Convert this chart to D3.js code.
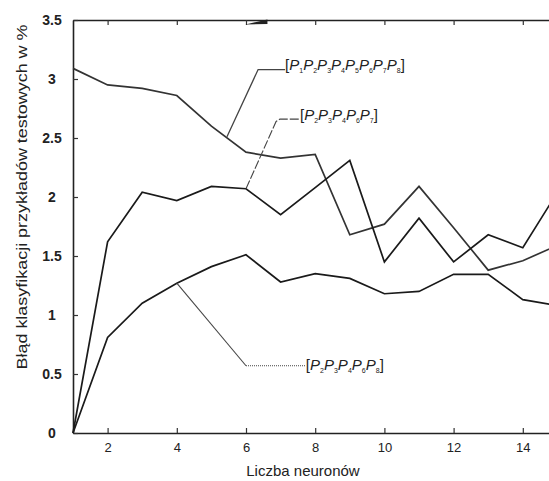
<!DOCTYPE html>
<html>
<head>
<meta charset="utf-8">
<script src="https://cdn.jsdelivr.net/npm/d3@7"></script>
<style>
  body { margin: 0; background: #fff; }
  svg { display: block; font-family: "Liberation Sans", Arial, sans-serif; }
</style>
</head>
<body>
<div id="chart"></div>
<script>
// liczba neuronow w warstwie ukrytej
const neurons = [1, 2, 3, 4, 5, 6, 7, 8, 9, 10, 11, 12, 13, 14, 15];

// blad klasyfikacji [%] dla trzech zestawow cech
const errAll = [3.09, 2.95, 2.92, 2.86, 2.60, 2.38, 2.33, 2.36, 1.68, 1.77, 2.09, 1.74, 1.38, 1.46, 1.59];
const errSet7 = [0, 1.62, 2.04, 1.97, 2.09, 2.07, 1.85, 2.08, 2.31, 1.45, 1.82, 1.45, 1.68, 1.57, 2.04];
const errSet8 = [0, 0.81, 1.10, 1.27, 1.41, 1.51, 1.28, 1.35, 1.31, 1.18, 1.20, 1.345, 1.345, 1.13, 1.08];

const xTicks = [2, 4, 6, 8, 10, 12, 14];
const yTicks = [0, 0.5, 1, 1.5, 2, 2.5, 3, 3.5];

// opisy krzywych: indeksy P
const labelAll = [1, 2, 3, 4, 5, 6, 7, 8];
const labelSet7 = [2, 3, 4, 6, 7];
const labelSet8 = [2, 3, 4, 6, 8];

var W = 549, H = 481;
var padLeft = 73, padTop = 20, axisY = 433;

var svg = d3.select("#chart")
  .append("svg")
  .attr("width", W)
  .attr("height", H);

var x = d3.scaleLinear().domain([1, 15]).range([padLeft, padLeft + 14 * 34.6]);
var y = d3.scaleLinear().domain([0, 3.5]).range([axisY, padTop]);

// osie
var xAxis = svg.append("g")
  .attr("transform", "translate(0," + axisY + ")")
  .call(d3.axisBottom(x).tickValues(xTicks).tickSize(-5).tickPadding(10).tickSizeOuter(0));

var xTop = svg.append("g")
  .attr("transform", "translate(0," + padTop + ")")
  .call(d3.axisTop(x).tickValues(xTicks).tickSize(-5).tickFormat("").tickSizeOuter(0));

var yAxis = svg.append("g")
  .attr("transform", "translate(" + padLeft + ",0)")
  .call(d3.axisLeft(y).tickValues(yTicks).tickSize(-5).tickSizeOuter(0)
    .tickFormat(function(d){ return d3.format("")(d); }));

[xAxis, xTop, yAxis].forEach(function(g){
  g.select(".domain").attr("stroke", "#222").attr("stroke-width", 1.6);
  g.selectAll(".tick line").attr("stroke", "#333").attr("stroke-width", 1.2);
});

xAxis.selectAll("text")
  .attr("font-size", 13)
  .attr("fill", "#222");

yAxis.selectAll("text")
  .attr("font-size", 14)
  .attr("font-weight", "bold")
  .attr("fill", "#222")
  .attr("text-anchor", "middle")
  .attr("x", -21);

// znieksztalcenie na gornej krawedzi (jak w oryginale)
svg.append("path")
  .attr("d", "M" + x(5.98) + "," + (padTop + 4.5) + "L" + x(6.62) + "," + (padTop - 0.5) + "L" + x(6.62) + "," + (padTop + 4) + "Z")
  .attr("fill", "#222");

// krzywe
var line = d3.line()
  .x(function(d, i){ return x(neurons[i]); })
  .y(function(d){ return y(d); });

[errAll, errSet7, errSet8].forEach(function(s, k){
  svg.append("path")
    .datum(s)
    .attr("d", line)
    .attr("fill", "none")
    .attr("stroke", k == 0 ? "#333" : "#1a1a1a")
    .attr("stroke-width", 1.7)
    .attr("stroke-linejoin", "miter");
});

// linie odniesienia do opisow
var leader = d3.line()
  .x(function(d){ return x(d[0]); })
  .y(function(d){ return y(d[1]); });

svg.append("path")
  .attr("d", leader([[5.45, 2.51], [6.35, 3.08], [7.13, 3.08]]))
  .attr("fill", "none").attr("stroke", "#444").attr("stroke-width", 1.3);

svg.append("path")
  .attr("d", leader([[6, 2.07], [6.87, 2.64], [6.98, 2.66], [7.56, 2.66]]))
  .attr("fill", "none").attr("stroke", "#444").attr("stroke-width", 1.1)
  .attr("stroke-dasharray", "9,2");

svg.append("path")
  .attr("d", leader([[4, 1.27], [6, 0.57]]))
  .attr("fill", "none").attr("stroke", "#444").attr("stroke-width", 1.1);

svg.append("path")
  .attr("d", leader([[6, 0.57], [7.73, 0.57]]))
  .attr("fill", "none").attr("stroke", "#444").attr("stroke-width", 1)
  .attr("stroke-dasharray", "1,1");

function setLabel(idx, nx, vy) {
  var t = svg.append("text")
    .attr("x", x(nx))
    .attr("y", y(vy))
    .attr("font-size", 15)
    .attr("fill", "#222");
  t.append("tspan").text("[");
  idx.forEach(function(p, i){
    t.append("tspan").attr("font-style", "italic").attr("dy", i == 0 ? 0 : -3).text("P");
    t.append("tspan").attr("font-size", 7).attr("dy", 3).text(p);
  });
  t.append("tspan").attr("dy", -3).text("]");
}

setLabel(labelAll, 7.13, 3.075);
setLabel(labelSet7, 7.56, 2.65);
setLabel(labelSet8, 7.73, 0.53);

// opisy osi
svg.append("text")
  .attr("x", 303)
  .attr("y", 476)
  .attr("text-anchor", "middle")
  .attr("font-size", 15)
  .attr("fill", "#222")
  .text("Liczba neuronów");

svg.append("text")
  .attr("transform", "translate(27,197) rotate(-90)")
  .attr("text-anchor", "middle")
  .attr("font-size", 14)
  .attr("fill", "#222")
  .attr("textLength", 345)
  .attr("lengthAdjust", "spacingAndGlyphs")
  .text("Błąd klasyfikacji przykładów testowych w %");
</script>
</body>
</html>
